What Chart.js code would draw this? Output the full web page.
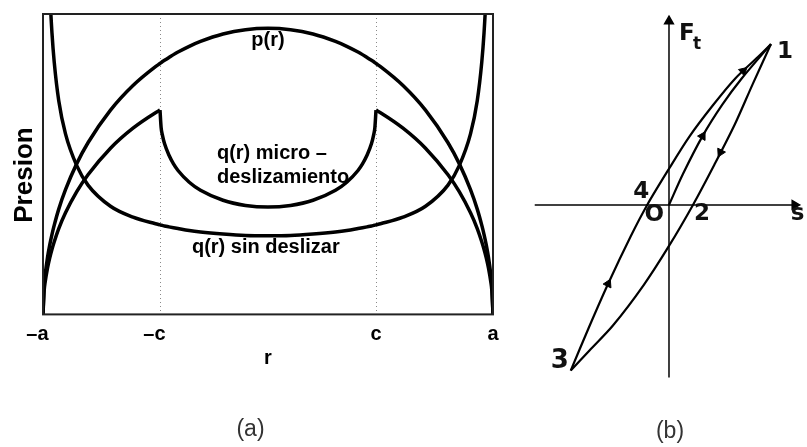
<!DOCTYPE html>
<html>
<head>
<meta charset="utf-8">
<script src="https://cdn.jsdelivr.net/npm/chart.js@4.4.0/dist/chart.umd.min.js"></script>
<style>
  html, body { margin: 0; padding: 0; background: #fff; }
  #wrap { position: relative; width: 807px; height: 447px; overflow: hidden; }
  canvas { position: absolute; top: 0; }
  #presion { left: 0; }
  #ciclo { left: 520px; }
</style>
</head>
<body>
<div id="wrap">
  <canvas id="presion" width="520" height="447"></canvas>
  <canvas id="ciclo" width="287" height="447"></canvas>
</div>
<script>
// (a) contact pressures along r (r in units of a)
const c = 0.48;
const r = [-1, -0.995, -0.99, -0.98, -0.97, -0.96, -0.95, -0.93, -0.9, -0.85, -0.8, -0.7, -0.6, -0.5, -0.48, -0.475, -0.47, -0.46, -0.44, -0.42, -0.4, -0.35, -0.3, -0.2, -0.1,
           0,
           0.1, 0.2, 0.3, 0.35, 0.4, 0.42, 0.44, 0.46, 0.47, 0.475, 0.48, 0.5, 0.6, 0.7, 0.8, 0.85, 0.9, 0.93, 0.95, 0.96, 0.97, 0.98, 0.99, 0.995, 1];
const p = [0, 0.100, 0.141, 0.199, 0.243, 0.280, 0.312, 0.368, 0.436, 0.527, 0.600, 0.714, 0.800, 0.866, 0.877, 0.880, 0.883, 0.888, 0.898, 0.908, 0.917, 0.937, 0.954, 0.980, 0.995,
           1.000,
           0.995, 0.980, 0.954, 0.937, 0.917, 0.908, 0.898, 0.888, 0.883, 0.880, 0.877, 0.866, 0.800, 0.714, 0.600, 0.527, 0.436, 0.368, 0.312, 0.280, 0.243, 0.199, 0.141, 0.100, 0];
const qStick = [null, 2.75, 1.95, 1.382, 1.132, 0.982, 0.881, 0.747, 0.631, 0.520, 0.452, 0.378, 0.340, 0.317, 0.313, 0.312, 0.311, 0.309, 0.306, 0.303, 0.300, 0.293, 0.288, 0.281, 0.276,
                0.275,
                0.276, 0.281, 0.288, 0.293, 0.300, 0.303, 0.306, 0.309, 0.311, 0.312, 0.313, 0.317, 0.340, 0.378, 0.452, 0.520, 0.631, 0.747, 0.881, 0.982, 1.132, 1.382, 1.95, 2.75, null];
const qMicro = [0, 0.081, 0.115, 0.162, 0.198, 0.228, 0.254, 0.300, 0.355, 0.429, 0.488, 0.581, 0.651, 0.705, 0.714, 0.653, 0.629, 0.597, 0.556, 0.526, 0.503, 0.462, 0.434, 0.399, 0.381,
                0.375,
                0.381, 0.399, 0.434, 0.462, 0.503, 0.526, 0.556, 0.597, 0.629, 0.653, 0.714, 0.705, 0.651, 0.581, 0.488, 0.429, 0.355, 0.300, 0.254, 0.228, 0.198, 0.162, 0.115, 0.081, 0];
const rTicks = [-1, -c, c, 1];
const rTickLabels = ['\u2013a\u2007', '\u2013c\u2007', 'c', 'a'];

// (b) tangential force vs. slip loop, normalised to point 1
const loadS = [0, 0.138, 0.329, 0.521, 0.713, 1.0];
const loadF = [0, 0.194, 0.428, 0.622, 0.786, 1.0];
const unloadS = [1.0, 0.82, 0.645, 0.445, 0.235, 0.0, -0.25, -0.55, -0.78, -0.964];
const unloadF = [1.0, 0.75, 0.5, 0.25, 0.0, -0.255, -0.5, -0.75, -0.905, -1.03];
const reloadS = [-0.964, -0.788, -0.597, -0.374, -0.214, 0, 0.2, 0.425, 0.648, 0.872, 1.0];
const reloadF = [-1.03, -0.765, -0.49, -0.193, 0, 0.225, 0.425, 0.615, 0.785, 0.92, 1.0];
const arrowS = [0.329, 0.728, 0.505, -0.597];
const arrowF = [0.428, 0.833, 0.327, -0.49];
const arrowAngle = [30, 47, 207, 26];
const sAxisRange = [-1.317, 1.233];
const fAxisRange = [-1.073, 1.143];

const SANS = '"Liberation Sans", Arial, Helvetica, sans-serif';
const DEJAVU = '"DejaVu Sans", Verdana, sans-serif';

const xy = (xs, ys) => xs.map((x, i) => ({ x, y: ys[i] })).filter(d => d.y !== null);

const curve = (data) => ({
  data,
  borderColor: '#000',
  borderWidth: 3.5,
  pointRadius: 0,
  fill: false,
  cubicInterpolationMode: 'monotone'
});

const micro = xy(r, qMicro);

// axes box drawn on all four sides
const frame = {
  id: 'frame',
  afterDatasetsDraw(chart) {
    const { ctx, chartArea: a } = chart;
    ctx.save();
    ctx.strokeStyle = '#222';
    ctx.lineWidth = 2;
    ctx.strokeRect(a.left, a.top, a.right - a.left, a.bottom - a.top);
    ctx.restore();
  }
};

const notes = [
  { text: 'p(r)', r: 0, v: 0.938, align: 'center' },
  { text: 'q(r) micro \u2013', r: -0.227, v: 0.5425, align: 'left' },
  { text: 'deslizamiento', r: -0.227, v: 0.4585, align: 'left' },
  { text: 'q(r) sin deslizar', r: -0.338, v: 0.2135, align: 'left' }
];

const curveNotes = {
  id: 'curveNotes',
  afterDraw(chart) {
    const { ctx, scales: { x, y } } = chart;
    ctx.save();
    ctx.fillStyle = '#000';
    ctx.font = 'bold 20px ' + SANS;
    ctx.textBaseline = 'alphabetic';
    notes.forEach(n => {
      ctx.textAlign = n.align;
      ctx.fillText(n.text, x.getPixelForValue(n.r), y.getPixelForValue(n.v));
    });
    ctx.restore();
  }
};

new Chart(document.getElementById('presion'), {
  type: 'line',
  data: {
    datasets: [
      curve(xy(r, p)),
      curve(xy(r, qStick)),
      curve(micro.filter(d => d.x <= -c)),
      curve(micro.filter(d => Math.abs(d.x) <= c)),
      curve(micro.filter(d => d.x >= c))
    ]
  },
  options: {
    responsive: false,
    animation: false,
    layout: { padding: { left: 8, top: 14, right: 27, bottom: 0 } },
    plugins: {
      legend: { display: false },
      tooltip: { enabled: false },
      title: {
        display: true,
        text: '(a)',
        position: 'bottom',
        color: '#333',
        font: { family: SANS, size: 23, weight: 'normal' },
        padding: { top: 10, bottom: 4 }
      }
    },
    scales: {
      x: {
        type: 'linear',
        min: -1,
        max: 1,
        afterBuildTicks: s => { s.ticks = rTicks.map(v => ({ value: v })); },
        afterFit: s => { s.height = 91; },
        ticks: {
          callback: (v, i) => rTickLabels[i],
          color: '#000',
          font: { family: SANS, size: 20, weight: 'bold' },
          padding: 8,
          maxRotation: 0,
          autoSkip: false
        },
        grid: {
          drawTicks: false,
          lineWidth: 1,
          color: ctx => (ctx.tick && Math.abs(ctx.tick.value) < 1 ? '#8a8a8a' : 'rgba(0,0,0,0)')
        },
        border: { display: false, dash: [1, 3] },
        title: {
          display: true,
          text: 'r',
          color: '#000',
          font: { family: SANS, size: 20, weight: 'bold' },
          padding: { top: 0, bottom: 35 }
        }
      },
      y: {
        min: 0,
        max: 1.05,
        afterFit: s => { s.width = 35; },
        ticks: { display: false },
        grid: { display: false },
        border: { display: false },
        title: {
          display: true,
          // trailing spaces sit the label a little below the axis middle
          text: 'Presion   ',
          color: '#000',
          font: { family: SANS, size: 26, weight: 'bold' },
          padding: { top: 1, bottom: 0 }
        }
      }
    }
  },
  plugins: [frame, curveNotes]
});

// (b) point labels placed next to the loop's key points
const loopLabels = {
  id: 'loopLabels',
  afterDraw(chart) {
    const { ctx, scales: { x, y } } = chart;
    const put = (text, s, f, dx, dy, align, size) => {
      ctx.font = 'bold ' + size + 'px ' + DEJAVU;
      ctx.textAlign = align;
      ctx.fillText(text, x.getPixelForValue(s) + dx, y.getPixelForValue(f) + dy);
    };
    ctx.save();
    ctx.fillStyle = '#111';
    ctx.textBaseline = 'alphabetic';
    put('1', loadS[loadS.length - 1], loadF[loadF.length - 1], 6, 14, 'left', 23);
    put('3', reloadS[0], reloadF[0], -2, -3, 'right', 26);
    put('4', reloadS[4], reloadF[4], 2, -7, 'right', 23);
    put('O', 0, 0, -5, 16, 'right', 23);
    put('2', unloadS[4], unloadF[4], 1, 15, 'left', 23);
    put('s', sAxisRange[1], 0, -4, 15, 'left', 23);
    put('F', 0, fAxisRange[1], 10, 19, 'left', 23);
    put('t', 0, fAxisRange[1], 24, 28, 'left', 17);
    ctx.restore();
  }
};

const loopLine = (xs, ys) => ({
  data: xy(xs, ys),
  showLine: true,
  borderColor: '#000',
  borderWidth: 2.2,
  pointRadius: 0,
  tension: 0.3
});

new Chart(document.getElementById('ciclo'), {
  type: 'scatter',
  data: {
    datasets: [
      loopLine(loadS, loadF),
      loopLine(unloadS, unloadF),
      loopLine(reloadS, reloadF),
      {
        data: xy(sAxisRange, [0, 0]),
        showLine: true,
        borderColor: '#000',
        borderWidth: 1.5,
        pointStyle: 'triangle',
        pointRadius: [0, 5],
        pointRotation: 90,
        pointBackgroundColor: '#000',
        pointBorderColor: '#000'
      },
      {
        data: xy([0, 0], fAxisRange),
        showLine: true,
        borderColor: '#000',
        borderWidth: 1.5,
        pointStyle: 'triangle',
        pointRadius: [0, 5],
        pointRotation: 0,
        pointBackgroundColor: '#000',
        pointBorderColor: '#000'
      },
      {
        data: xy(arrowS, arrowF),
        showLine: false,
        pointStyle: 'triangle',
        pointRadius: 5,
        pointRotation: arrowAngle,
        pointBackgroundColor: '#000',
        pointBorderColor: '#000'
      }
    ]
  },
  options: {
    responsive: false,
    animation: false,
    clip: false,
    layout: { padding: { left: 13, top: 0, right: 0, bottom: 0 } },
    plugins: {
      legend: { display: false },
      tooltip: { enabled: false },
      title: {
        display: true,
        text: '(b)',
        position: 'bottom',
        color: '#333',
        font: { family: SANS, size: 23, weight: 'normal' },
        padding: { top: 10, bottom: 2 }
      }
    },
    scales: {
      x: { display: false, min: -1.334, max: 1.290 },
      y: { display: false, min: -1.259, max: 1.234 }
    }
  },
  plugins: [loopLabels]
});
</script>
</body>
</html>
